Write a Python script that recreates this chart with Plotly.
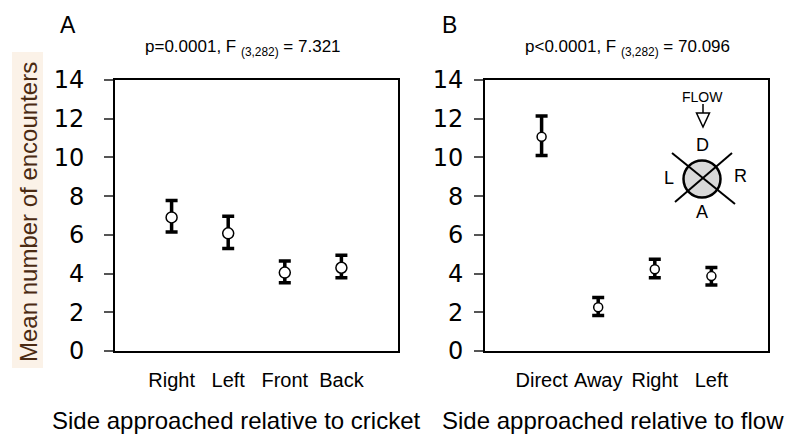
import plotly.graph_objects as go

W, H = 811, 444
OFF = 8  # page body margin of the browser

# ---- data ----
cats_a = ["Right", "Left", "Front", "Back"]
means_a = [6.9, 6.08, 4.05, 4.3]
err_up_a = [0.88, 0.88, 0.6, 0.65]
err_dn_a = [0.75, 0.78, 0.52, 0.52]

cats_b = ["Direct", "Away", "Right", "Left"]
means_b = [11.07, 2.26, 4.22, 3.87]
err_up_b = [1.07, 0.5, 0.52, 0.45]
err_dn_b = [0.97, 0.42, 0.44, 0.46]

yticks = [0, 2, 4, 6, 8, 10, 12, 14]

def px(x):
    return (x - OFF) / W

def py(y):
    return 1 - (y - OFF) / H

fig = go.Figure()

for cats, means, eu, ed, xa, ya, msize in [
    (cats_a, means_a, err_up_a, err_dn_a, "x", "y", 11),
    (cats_b, means_b, err_up_b, err_dn_b, "x2", "y2", 9),
]:
    fig.add_trace(go.Scatter(
        x=list(range(1, len(cats) + 1)), y=means, mode="markers",
        xaxis=xa, yaxis=ya,
        marker=dict(symbol="circle", size=msize, color="white",
                    line=dict(color="black", width=1.5)),
        error_y=dict(type="data", symmetric=False, array=eu, arrayminus=ed,
                     color="black", thickness=3.5, width=6),
        showlegend=False, hoverinfo="skip",
    ))

axis_common_y = dict(
    range=[0, 14], tickvals=yticks, ticktext=[str(v) for v in yticks],
    showgrid=False, zeroline=False, showline=True, linecolor="black",
    linewidth=2, mirror=True, ticks="outside", ticklen=9, tickwidth=1.5,
    tickcolor="#555555", automargin=False,
    tickfont=dict(family="DejaVu Sans", size=24, color="black"),
)
axis_common_x = dict(
    range=[0, 5], showgrid=False, zeroline=False, showline=True,
    linecolor="black", linewidth=2, mirror=True, ticks="", automargin=False,
    tickfont=dict(family="Liberation Sans, Arial", size=20, color="black"),
)

ybot, ytop = py(351), py(80)
fig.update_layout(
    width=W, height=H, margin=dict(l=0, r=0, t=0, b=0, autoexpand=False),
    paper_bgcolor="white", plot_bgcolor="white",
    xaxis=dict(axis_common_x, domain=[px(115), px(398)], anchor="y",
               tickvals=[1, 2, 3, 4], ticktext=cats_a, ticklabelstandoff=10),
    yaxis=dict(axis_common_y, domain=[ybot, ytop], anchor="x", ticklabelstandoff=15),
    xaxis2=dict(axis_common_x, domain=[px(485), px(768)], anchor="y2",
                tickvals=[1, 2, 3, 4], ticktext=cats_b, ticklabelstandoff=10),
    yaxis2=dict(axis_common_y, domain=[ybot, ytop], anchor="x2", ticklabelstandoff=6),
)

ann = []
def A(x, y, text, size, color="black", family="Liberation Sans, Arial", **kw):
    ann.append(dict(x=px(x), y=py(y), xref="paper", yref="paper", text=text,
                    showarrow=False, font=dict(family=family, size=size, color=color),
                    xanchor="center", yanchor="middle", **kw))

A(68, 25, "A", 23)
A(449, 25, "B", 23)
A(243, 48, "p=0.0001, F <sub>(3,282)</sub> = 7.321", 17)
A(627, 48, "p&lt;0.0001, F <sub>(3,282)</sub> = 70.096", 17)
A(236, 420, "Side approached relative to cricket", 24)
A(613, 420, "Side approached relative to flow", 24)
A(28, 212, "Mean number of encounters", 24, color="#4a2a12", textangle=-90)

# inset diagram labels
A(702, 97, "FLOW", 14)
A(702, 145, "D", 18)
A(669, 178, "L", 18)
A(740, 176, "R", 18)
A(702, 212, "A", 18)
fig.update_layout(annotations=ann)

shapes = []
# beige highlight behind y title
shapes.append(dict(type="rect", xref="paper", yref="paper",
                   x0=px(12), x1=px(43), y0=py(368), y1=py(52),
                   fillcolor="#fbf2e8", line=dict(width=0), layer="below"))
# flow arrow
shapes.append(dict(type="line", xref="paper", yref="paper",
                   x0=px(703), x1=px(703), y0=py(104), y1=py(113),
                   line=dict(color="black", width=1.5)))
shapes.append(dict(type="path", xref="paper", yref="paper",
                   path=f"M {px(696.5)} {py(113)} L {px(709.5)} {py(113)} L {px(703)} {py(127)} Z",
                   fillcolor="white", line=dict(color="black", width=1.5)))
# circle
shapes.append(dict(type="circle", xref="paper", yref="paper",
                   x0=px(683.5), x1=px(720.5), y0=py(197.5), y1=py(160.5),
                   fillcolor="#d9d9d9", line=dict(color="black", width=2.5)))
# cross
shapes.append(dict(type="line", xref="paper", yref="paper",
                   x0=px(672), y0=py(153), x1=px(735), y1=py(204),
                   line=dict(color="black", width=2)))
shapes.append(dict(type="line", xref="paper", yref="paper",
                   x0=px(732), y0=py(153), x1=px(675), y1=py(202),
                   line=dict(color="black", width=2)))
fig.update_layout(shapes=shapes)

fig.write_html("out.html")
